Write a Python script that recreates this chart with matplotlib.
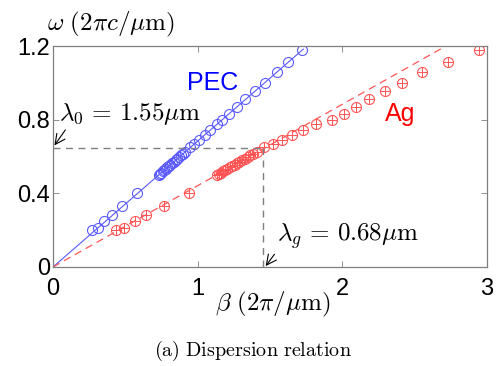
import numpy as np
import matplotlib
matplotlib.use('Agg')
import matplotlib.pyplot as plt

plt.rcParams['mathtext.fontset'] = 'cm'
plt.rcParams['font.family'] = ['Liberation Sans', 'DejaVu Sans']

# frekuensi bersama (2*pi*c/um)
omega = [0.200, 0.213, 0.249, 0.285, 0.332, 0.400,
         0.500, 0.506, 0.513, 0.519, 0.526, 0.533, 0.541, 0.548,
         0.556, 0.563, 0.571, 0.580, 0.588, 0.597, 0.606, 0.615,
         0.626, 0.650, 0.668, 0.689, 0.717, 0.744, 0.775, 0.798,
         0.831, 0.870, 0.910, 0.957, 1.000, 1.057, 1.111, 1.178]

# konstanta propagasi PEC
beta_pec = [0.273, 0.310, 0.351, 0.410, 0.480, 0.578,
            0.730, 0.739, 0.749, 0.758, 0.768, 0.778, 0.790, 0.800,
            0.812, 0.822, 0.834, 0.847, 0.858, 0.872, 0.885, 0.898,
            0.915, 0.950, 0.977, 1.007, 1.048, 1.088, 1.133, 1.167,
            1.215, 1.272, 1.330, 1.399, 1.462, 1.545, 1.624, 1.722]

# konstanta propagasi Ag
beta_ag = [0.434, 0.490, 0.564, 0.640, 0.766, 0.938,
           1.133, 1.146, 1.161, 1.175, 1.190, 1.205, 1.223, 1.238,
           1.256, 1.271, 1.288, 1.308, 1.326, 1.345, 1.365, 1.385,
           1.409, 1.459, 1.519, 1.581, 1.650, 1.725, 1.817, 1.925,
           2.010, 2.092, 2.184, 2.292, 2.411, 2.551, 2.732, 2.946]

# garis bantu
pec_line_x = [0.0, 1.73]
pec_line_y = [0.0, 1.183]
ag_line_x = [0.0, 2.716]
ag_line_y = [0.0, 1.2]

omega0 = 0.645   # lambda0 = 1.55 um
beta_g = 1.452   # lambda_g = 0.68 um

blue = '#5a5aff'
red = '#ff5555'
grey = '#7f7f7f'

fig = plt.figure(figsize=(4.98, 3.66), dpi=100)
ax = fig.add_axes([0.1064, 0.2705, 0.8716, 0.6038])

ax.plot(pec_line_x, pec_line_y, color=blue, lw=0.8)
ax.plot(ag_line_x, ag_line_y, color=red, lw=0.9, ls=(0, (6, 4)))
ax.plot(beta_pec, omega, 'o', mfc='none', mec=blue, ms=7.2, mew=0.8)
ax.plot(beta_ag, omega, 'o', mfc='none', mec=red, ms=7.2, mew=0.8)
ax.plot(beta_ag, omega, '+', color=red, ms=7.2, mew=0.7)

ax.plot([0, beta_g], [omega0, omega0], color=grey, lw=1.0, ls=(0, (5, 4)))
ax.plot([beta_g, beta_g], [0, omega0], color=grey, lw=1.0, ls=(0, (5, 4)))

ax.annotate(r'$\lambda_0 \,=\, 1.55\mu\mathrm{m}$', xy=(0.01, 0.66), xytext=(0.04, 0.83),
            fontsize=18, va='center', ha='left',
            arrowprops=dict(arrowstyle='->', color='black', lw=0.8, shrinkA=0, shrinkB=0,
                            relpos=(0.06, 0.0)))
ax.annotate(r'$\lambda_g \,=\, 0.68\mu\mathrm{m}$', xy=(1.47, 0.005), xytext=(1.545, 0.165),
            fontsize=18, va='center', ha='left',
            arrowprops=dict(arrowstyle='->', color='black', lw=0.8, shrinkA=0, shrinkB=0,
                            relpos=(0.0, 0.0)))

ax.text(1.1, 1.0, 'PEC', color='blue', fontsize=18, ha='center', va='center')
ax.text(2.4, 0.832, 'Ag', color='red', fontsize=18, ha='center', va='center')

ax.set_xlim(0, 3)
ax.set_ylim(0, 1.2)
ax.set_xticks([0, 1, 2, 3])
ax.set_yticks([0, 0.4, 0.8, 1.2])
ax.set_xticklabels(['0', '1', '2', '3'])
ax.set_yticklabels(['0', '0.4', '0.8', '1.2'])
ax.tick_params(direction='in', length=4, width=0.6, color=grey, labelsize=17,
               top=True, right=True)
ax.tick_params(axis='x', pad=8)
ax.tick_params(axis='y', pad=2)
for s in ax.spines.values():
    s.set_color(grey)
    s.set_linewidth(0.9)

fig.text(0.222, 0.932, r'$\omega\ (2\pi c/\mu\mathrm{m})$', fontsize=18, ha='center', va='center')
fig.text(0.547, 0.167, r'$\beta\ (2\pi/\mu\mathrm{m})$', fontsize=18, ha='center', va='center')
fig.text(0.508, 0.040, r'$\mathrm{(a)\ Dispersion\ relation}$', fontsize=14.5, ha='center', va='center')

fig.savefig('out.png', dpi=100)
